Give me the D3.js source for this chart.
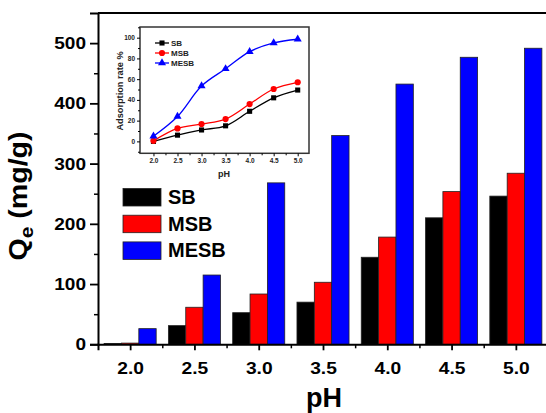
<!DOCTYPE html>
<html>
<head>
<meta charset="utf-8">
<script src="https://cdn.jsdelivr.net/npm/d3@7"></script>
<style>
  body { margin: 0; background: #fff; }
  svg { display: block; font-family: Arial, "Liberation Sans", sans-serif; font-weight: bold; }
</style>
</head>
<body>
<svg id="chart" width="546" height="413"></svg>
<script>
// main bar chart data (Qe, mg/g)
const phValues = [2.0, 2.5, 3.0, 3.5, 4.0, 4.5, 5.0];
const seriesNames = ['SB', 'MSB', 'MESB'];
const sbQe = [1.5, 31, 52.5, 70, 144.5, 210, 246];
const msbQe = [2, 61.5, 83.5, 103, 178, 253.5, 284];
const mesbQe = [26, 115, 268, 346.5, 432, 476.5, 491.5];
const xTickLabels = ['2.0', '2.5', '3.0', '3.5', '4.0', '4.5', '5.0'];
const yTickValues = [0, 100, 200, 300, 400, 500];

// inset data (adsorption rate %)
const sbRate = [0, 6, 11, 15, 29, 42, 49.5];
const msbRate = [0.5, 12.5, 16.7, 21.5, 36, 50.5, 57];
const mesbRate = [5, 24, 53.4, 70, 86.5, 95, 98.5];
const insetYTicks = [0, 20, 40, 60, 80, 100];

const colors = ['#000000', '#ff0000', '#0000ff'];
const fontFam = 'Arial, "Liberation Sans", sans-serif';

const svg = d3.select('#chart');
svg.append('rect').attr('width', 546).attr('height', 413).attr('fill', '#fff');

// ---------- main chart ----------
const mLeft = 98, mRight = 548, mTop = 13, mBottom = 344.3;
const x = d3.scaleLinear().domain([1.75, 5.25]).range([mLeft, mRight]);
const y = d3.scaleLinear().domain([0, 550]).range([mBottom, mTop]);
const bw = x(2.135) - x(2.0);

const allSeries = [sbQe, msbQe, mesbQe];
const barData = [];
allSeries.forEach(function (vals, s) {
    vals.forEach(function (v, i) {
        barData.push({ ph: phValues[i], value: v, s: s });
    });
});

svg.append('g').selectAll('rect')
    .data(barData)
    .enter()
    .append('rect')
    .attr('x', function (d) { return x(d.ph) + (d.s - 1) * bw - bw / 2; })
    .attr('y', function (d) { return y(d.value); })
    .attr('width', bw)
    .attr('height', function (d) { return mBottom - y(d.value); })
    .attr('fill', function (d) { return colors[d.s]; })
    .attr('stroke', '#222')
    .attr('stroke-width', 0.8);

// frame top
svg.append('line')
    .attr('x1', mLeft).attr('x2', mRight)
    .attr('y1', mTop).attr('y2', mTop)
    .attr('stroke', '#000').attr('stroke-width', 2);

// y axis
const yAxis = svg.append('g')
    .attr('transform', 'translate(' + mLeft + ',0)')
    .call(d3.axisLeft(y).tickValues(yTickValues).tickSize(8).tickPadding(3));
yAxis.select('.domain').attr('stroke-width', 2);
yAxis.selectAll('.tick line').attr('stroke-width', 1.8);
yAxis.selectAll('text')
    .attr('font-size', 17).attr('font-weight', 'bold').attr('font-family', fontFam).attr('fill', '#000')
    .attr('x', 0)
    .attr('transform', 'translate(-12,0) scale(1.12,1)');
svg.append('g')
    .attr('transform', 'translate(' + mLeft + ',0)')
    .call(d3.axisLeft(y).tickValues([50, 150, 250, 350, 450]).tickSize(4).tickFormat(''))
    .call(function (g) { g.select('.domain').remove(); g.selectAll('line').attr('stroke-width', 1.5); });

// x axis
const xAxis = svg.append('g')
    .attr('transform', 'translate(0,' + mBottom + ')')
    .call(d3.axisBottom(x).tickValues(phValues).tickSize(6).tickPadding(12)
        .tickFormat(function (d, i) { return xTickLabels[i]; }));
xAxis.select('.domain').attr('stroke-width', 2);
xAxis.selectAll('.tick line').attr('stroke-width', 1.8);
xAxis.selectAll('text')
    .attr('font-size', 16).attr('font-weight', 'bold').attr('font-family', fontFam).attr('fill', '#000')
    .attr('transform', 'scale(1.2,1)');
svg.append('g')
    .attr('transform', 'translate(0,' + mBottom + ')')
    .call(d3.axisBottom(x).tickValues([2.25, 2.75, 3.25, 3.75, 4.25, 4.75]).tickSize(4).tickFormat(''))
    .call(function (g) { g.select('.domain').remove(); g.selectAll('line').attr('stroke-width', 1.5); });

// axis titles
svg.append('text')
    .attr('x', 324).attr('y', 407)
    .attr('text-anchor', 'middle')
    .attr('font-size', 27)
    .text('pH');

const yTitle = svg.append('text')
    .attr('transform', 'translate(27,196) rotate(-90) scale(1.1,1)')
    .attr('text-anchor', 'middle')
    .attr('font-size', 26);
yTitle.append('tspan').text('Q');
yTitle.append('tspan').attr('font-size', 19).attr('dy', 6).text('e');
yTitle.append('tspan').attr('dy', -6).text(' (mg/g)');

// legend
const legend = svg.append('g').selectAll('g')
    .data(seriesNames)
    .enter()
    .append('g')
    .attr('transform', function (d, i) { return 'translate(123,' + (188.5 + i * 26.7) + ')'; });
legend.append('rect')
    .attr('width', 38).attr('height', 17.5)
    .attr('fill', function (d, i) { return colors[i]; })
    .attr('stroke', '#222').attr('stroke-width', 0.8);
legend.append('text')
    .attr('x', 45).attr('y', 15.5)
    .attr('font-size', 20)
    .text(function (d) { return d; });

// ---------- inset ----------
const iLeft = 140, iRight = 309, iTop = 27, iBottom = 153.3;
const ix = d3.scaleLinear().domain([1.72, 5.235]).range([iLeft, iRight]);
const iy = d3.scaleLinear().domain([-11.5, 110.3]).range([iBottom, iTop]);

svg.append('rect')
    .attr('x', iLeft).attr('y', iTop)
    .attr('width', iRight - iLeft).attr('height', iBottom - iTop)
    .attr('fill', '#fff').attr('stroke', '#333').attr('stroke-width', 1.5);

const ixAxis = svg.append('g')
    .attr('transform', 'translate(0,' + iBottom + ')')
    .call(d3.axisBottom(ix).tickValues(phValues).tickSize(3).tickPadding(2)
        .tickFormat(function (d, i) { return xTickLabels[i]; }));
ixAxis.select('.domain').remove();
ixAxis.selectAll('text').attr('font-size', 6.5).attr('font-weight', 'bold').attr('font-family', fontFam).attr('fill', '#222');
svg.append('g')
    .attr('transform', 'translate(0,' + iBottom + ')')
    .call(d3.axisBottom(ix).tickValues([2.25, 2.75, 3.25, 3.75, 4.25, 4.75]).tickSize(2).tickFormat(''))
    .call(function (g) { g.select('.domain').remove(); });

const iyAxis = svg.append('g')
    .attr('transform', 'translate(' + iLeft + ',0)')
    .call(d3.axisLeft(iy).tickValues(insetYTicks).tickSize(3).tickPadding(2));
iyAxis.select('.domain').remove();
iyAxis.selectAll('text').attr('font-size', 6.5).attr('font-weight', 'bold').attr('font-family', fontFam).attr('fill', '#222');
svg.append('g')
    .attr('transform', 'translate(' + iLeft + ',0)')
    .call(d3.axisLeft(iy).tickValues([-10, 10, 30, 50, 70, 90, 110]).tickSize(2).tickFormat(''))
    .call(function (g) { g.select('.domain').remove(); });

svg.append('text')
    .attr('x', 224).attr('y', 177)
    .attr('text-anchor', 'middle')
    .attr('font-size', 9)
    .attr('fill', '#222')
    .text('pH');
svg.append('text')
    .attr('transform', 'translate(122.5,91) rotate(-90)')
    .attr('text-anchor', 'middle')
    .attr('font-size', 9.2)
    .attr('fill', '#222')
    .text('Adsorption rate %');

const rateSeries = [sbRate, msbRate, mesbRate];
const line = d3.line()
    .x(function (d, i) { return ix(phValues[i]); })
    .y(function (d) { return iy(d); })
    .curve(d3.curveCatmullRom.alpha(0.5));

rateSeries.forEach(function (vals, s) {
    svg.append('path')
        .attr('d', line(vals))
        .attr('fill', 'none')
        .attr('stroke', colors[s])
        .attr('stroke-width', 1.3);
    const pts = svg.append('g').selectAll('path')
        .data(vals)
        .enter()
        .append('path')
        .attr('transform', function (d, i) { return 'translate(' + ix(phValues[i]) + ',' + iy(d) + ')'; })
        .attr('fill', colors[s]);
    if (s === 0) pts.attr('d', d3.symbol(d3.symbolSquare, 26)());
    if (s === 1) pts.attr('d', d3.symbol(d3.symbolCircle, 30)());
    if (s === 2) pts.attr('d', d3.symbol(d3.symbolTriangle, 28)());
});

// inset legend
const iLegend = svg.append('g').selectAll('g')
    .data(seriesNames)
    .enter()
    .append('g')
    .attr('transform', function (d, i) { return 'translate(155,' + (43 + i * 10) + ')'; });
iLegend.append('line')
    .attr('x1', 0).attr('x2', 14)
    .attr('stroke', function (d, i) { return colors[i]; })
    .attr('stroke-width', 1.3);
iLegend.append('path')
    .attr('transform', 'translate(7,0)')
    .attr('fill', function (d, i) { return colors[i]; })
    .attr('d', function (d, i) {
        return d3.symbol([d3.symbolSquare, d3.symbolCircle, d3.symbolTriangle][i], [26, 30, 28][i])();
    });
iLegend.append('text')
    .attr('x', 16).attr('y', 2.8)
    .attr('font-size', 8)
    .attr('fill', '#222')
    .text(function (d) { return d; });
</script>
</body>
</html>
